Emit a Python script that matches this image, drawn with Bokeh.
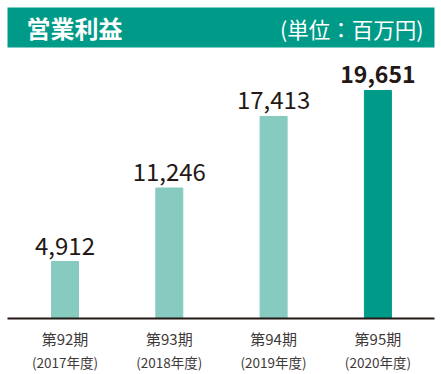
from bokeh.plotting import figure
from bokeh.models import Range1d, BoxAnnotation, ColumnDataSource
from bokeh.core.properties import value
from bokeh.embed import file_html
from bokeh.resources import INLINE

# ---- data ----
periods = ["第92期", "第93期", "第94期", "第95期"]
years = ["(2017年度)", "(2018年度)", "(2019年度)", "(2020年度)"]
profits = [4912, 11246, 17413, 19651]
title_text = "営業利益"
unit_text = "(単位：百万円)"

# ---- layout (pixels) ----
W, H = 441, 374
ZERO_PX = 318            # pixel row (from top) of the baseline
K = 228 / 19651          # px per unit
X0_PX, DX_PX = 64.5, 104.3

def ydat(py):
    return (ZERO_PX - py) / K

def xdat(px):
    return (px - X0_PX) / DX_PX

LIGHT = "#86cac0"
DARK = "#009a88"
TXT = "#3e3a39"
NUM = "#231815"
FONT = value("Noto Sans CJK JP")

p = figure(width=W, height=H, output_backend="svg", toolbar_location=None,
           x_range=Range1d(xdat(0), xdat(W)), y_range=Range1d(ydat(H), ydat(0)),
           min_border=0, min_border_left=0, min_border_right=0,
           min_border_top=0, min_border_bottom=0)
p.axis.visible = False
p.grid.visible = False
p.outline_line_color = None
p.background_fill_color = "white"
p.border_fill_color = "white"

# header band
p.add_layout(BoxAnnotation(left=xdat(7), right=xdat(434), top=ydat(7), bottom=ydat(47),
                           fill_color=DARK, fill_alpha=1.0, line_color=None,
                           level="underlay"))

xs = list(range(len(profits)))
colors = [LIGHT] * (len(profits) - 1) + [DARK]
src = ColumnDataSource(dict(x=xs, top=profits, color=colors,
                            period=periods, year=years))

p.vbar(x="x", top="top", bottom=0, width=27 / DX_PX, color="color", source=src)

# baseline
p.line(x=[xdat(7), xdat(434)], y=[0, 0], line_color=NUM, line_width=2)

# value labels
last = len(profits) - 1
for i, v in enumerate(profits):
    p.text(x=[i], y=[v], text=[f"{v:,}"], text_align="center",
           text_baseline="alphabetic", y_offset=-16,
           text_font=FONT, text_font_size="23px" if i == last else "24px",
           text_font_style="bold" if i == last else "normal",
           text_color=NUM)

# category labels
p.text(x="x", y=ydat(ZERO_PX + 20), text="period", source=src,
       text_align="center", text_baseline="middle",
       text_font=FONT, text_font_size="15px", text_color=TXT)
p.text(x="x", y=ydat(ZERO_PX + 43), text="year", source=src,
       text_align="center", text_baseline="middle",
       text_font=FONT, text_font_size="13.5px", text_color=TXT)

# header texts
p.text(x=[xdat(26)], y=[ydat(27)], text=[title_text], text_align="left",
       text_baseline="middle", text_font=FONT,
       text_font_size="24px", text_font_style="bold", text_color="white")
p.text(x=[xdat(423)], y=[ydat(28)], text=[unit_text], text_align="right",
       text_baseline="middle", text_font=FONT,
       text_font_size="21.5px", text_color="white")

open("out.html", "w").write(file_html(p, INLINE))
